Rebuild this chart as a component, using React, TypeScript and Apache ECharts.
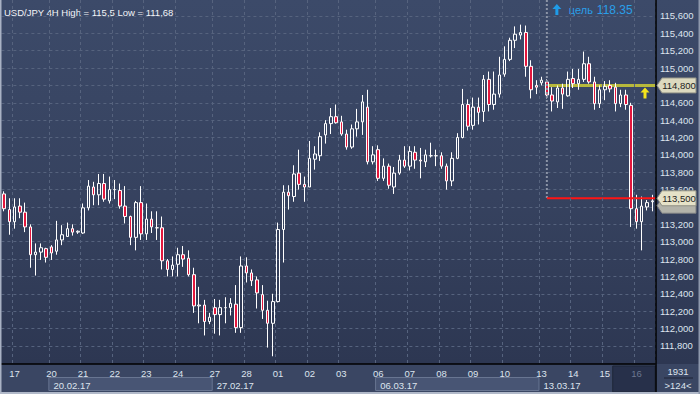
import React, { useEffect, useRef } from 'react';
import * as echarts from 'echarts';

// ---- data (USD/JPY 4H) ----
const openPrices = [113.55,113.37,113.23,113.41,113.34,113.17,112.85,112.88,112.92,112.94,
112.89,113.02,113.06,113.15,113.11,113.10,113.39,113.63,113.54,113.67,
113.47,113.60,113.59,113.41,113.29,113.05,113.45,113.09,113.26,113.16,
113.16,112.78,112.68,112.74,112.85,112.81,112.62,112.26,112.27,112.08,
112.24,112.16,112.24,112.24,112.28,112.01,112.72,112.64,112.56,112.39,
112.21,112.06,112.31,113.14,113.57,113.52,113.79,113.66,113.63,113.95,
113.99,114.23,114.36,114.44,114.38,114.24,114.09,114.30,114.38,114.55,
113.92,114.06,113.73,113.87,113.63,113.79,113.94,113.87,114.03,113.94,
113.92,113.99,113.99,113.99,113.87,113.70,113.96,114.20,114.58,114.34,
114.55,114.50,114.87,114.58,114.70,114.93,115.10,115.32,115.38,115.41,
115.02,114.80,114.83,114.84,114.69,114.61,114.77,114.68,114.88,114.82,
114.87,115.05,114.84,114.59,114.75,114.80,114.78,114.59,114.69,114.57,
113.38,113.23,113.40,113.46];

const closePrices = [113.38,113.23,113.40,113.34,113.17,112.85,112.88,112.93,112.82,112.87,
113.02,113.08,113.15,113.11,113.12,113.39,113.64,113.54,113.67,113.49,
113.60,113.60,113.41,113.29,113.05,113.45,113.09,113.26,113.17,113.16,
112.78,112.68,112.73,112.85,112.80,112.62,112.26,112.27,112.08,112.13,
112.16,112.24,112.24,112.29,112.01,112.72,112.64,112.55,112.41,112.21,
112.06,112.31,113.14,113.57,113.53,113.78,113.66,113.63,113.96,114.01,
114.21,114.36,114.44,114.37,114.24,114.09,114.30,114.38,114.61,113.92,
114.00,113.73,113.87,113.65,113.79,113.94,113.87,114.04,113.94,113.93,
114.00,113.99,113.99,113.87,113.70,113.96,114.20,114.58,114.33,114.55,
114.49,114.87,114.58,114.70,114.92,115.10,115.32,115.39,115.41,115.02,
114.75,114.78,114.86,114.69,114.62,114.77,114.70,114.87,114.82,114.87,
115.05,114.84,114.59,114.75,114.79,114.76,114.59,114.69,114.58,113.38,
113.23,113.41,113.45,113.47];

const lowPrices = [113.35,113.08,113.15,113.27,113.11,112.70,112.61,112.79,112.76,112.79,
112.85,112.96,113.06,113.07,113.09,113.09,113.36,113.42,113.42,113.46,
113.44,113.49,113.38,113.21,112.96,112.90,113.02,113.02,113.10,113.02,
112.68,112.60,112.60,112.60,112.71,112.60,112.18,112.06,111.92,112.05,
111.94,111.92,112.06,112.15,111.95,111.95,112.53,112.49,112.23,112.11,
111.78,111.68,112.30,112.76,113.37,113.46,113.60,113.46,113.63,113.83,
113.93,114.13,114.24,114.36,114.22,114.06,114.07,114.21,114.23,113.89,
113.89,113.70,113.70,113.61,113.55,113.77,113.85,113.82,113.84,113.73,
113.86,113.97,113.87,113.84,113.60,113.64,113.95,114.19,114.28,114.29,
114.35,114.38,114.50,114.52,114.66,114.90,115.08,115.23,115.33,114.90,
114.65,114.70,114.80,114.65,114.50,114.54,114.53,114.67,114.77,114.75,
114.84,114.82,114.52,114.54,114.63,114.72,114.50,114.55,114.52,113.17,
113.15,112.90,113.36,113.35];

const highPrices = [113.58,113.50,113.50,113.50,113.45,113.20,112.98,112.98,112.93,112.96,
113.24,113.19,113.22,113.20,113.13,113.44,113.71,113.69,113.78,113.78,
113.75,113.71,113.67,113.64,113.30,113.47,113.64,113.44,113.35,113.35,
113.29,112.80,112.83,112.93,112.95,112.90,112.70,112.48,112.33,112.18,
112.34,112.33,112.36,112.35,112.50,112.83,112.82,112.68,112.60,112.50,
112.32,112.40,113.22,113.65,113.65,113.88,114.06,113.75,114.16,114.10,
114.26,114.40,114.54,114.58,114.45,114.29,114.35,114.53,114.69,114.75,
114.10,114.11,113.96,113.90,113.86,114.00,114.10,114.10,114.10,114.08,
114.06,114.14,114.06,114.03,113.90,114.03,114.25,114.76,114.64,114.66,
114.66,114.92,114.96,114.96,115.13,115.25,115.35,115.48,115.50,115.49,
115.09,114.86,114.90,114.87,114.78,114.80,114.82,114.96,114.99,114.99,
115.19,115.13,114.90,114.80,114.85,114.86,114.83,114.75,114.75,114.60,
113.54,113.52,113.48,113.54];

// first bar of each trading day, and its label
const dayStarts = [2, 9, 15, 21, 27, 33, 40, 46, 52, 58, 64, 71, 77, 83, 89, 95, 102, 108, 114, 120];
const dayNames = ['17', '20', '21', '22', '23', '24', '27', '28', '01', '02', '03', '06', '07', '08', '09', '10', '13', '14', '15', '16'];
// first bar of each week, and its label
const weekStarts = [9, 40, 71, 102];
const weekNames = ['20.02.17', '27.02.17', '06.03.17', '13.03.17'];
const highlightedWeeks = [0, 2];

const yTicks = [111.8, 112.0, 112.2, 112.4, 112.6, 112.8, 113.0, 113.2, 113.4, 113.6, 113.8, 114.0, 114.2, 114.4, 114.6, 114.8, 115.0, 115.2, 115.4, 115.6];
// tick labels hidden under the price tags
const yCovered = [113.4, 114.8];

const titleText = 'USD/JPY 4H High = 115,5 Low = 111,68';
const targetWord = 'цель';
const targetValue = '118.35';
const levelBar = 103;
const levelYellow = 114.8;
const levelRed = 113.5;
const levelRedBehind = 113.46;
const todayBar = 120;
const todayBoxStart = 116;
const barCount = '1931';
const visibleCount = '>124<';

const FONT = '"Liberation Sans", Arial, sans-serif';
const Y_MAX = 115.784;
const Y_MIN = 111.591;

const fmtPrice = (v: number) => v.toFixed(3).replace('.', ',');

export default function App() {
  const ref = useRef<HTMLDivElement>(null);

  useEffect(() => {
    if (!ref.current) return;
    const chart = echarts.init(ref.current, null, { renderer: 'svg' });

    const barIds = openPrices.map((_, i) => 'b' + i);
    const dayAt: Record<number, string> = {};
    dayStarts.forEach((s, k) => (dayAt[s] = dayNames[k]));
    const weekAt: Record<number, string> = {};
    weekStarts.forEach((s, k) => (weekAt[s] = weekNames[k]));
    const candleData = openPrices.map((o, i) => [o, closePrices[i], lowPrices[i], highPrices[i]]);
    const idx = (v: string) => Number(String(v).slice(1));
    const labelTicks = yTicks.filter((t) => !yCovered.some((c) => Math.abs(c - t) < 1e-6));

    const option: any = {
      animation: false,
      backgroundColor: {
        type: 'linear', x: 0, y: 0, x2: 0, y2: 1,
        colorStops: [
          { offset: 0, color: '#3c4a69' },
          { offset: 0.5, color: '#36425f' },
          { offset: 0.92, color: '#2d3752' },
          { offset: 1, color: '#2c3651' },
        ],
      },
      title: {
        text: titleText, left: 0, top: 0, padding: [7, 4],
        textStyle: { color: '#f2f4f8', fontSize: 9.5, fontWeight: 'normal', fontFamily: FONT },
      },
      grid: { left: 1.4, top: 0, width: 653.5, height: 364, outerBoundsMode: 'none', containLabel: false },
      xAxis: [
        {
          type: 'category', data: barIds, boundaryGap: true, position: 'bottom', z: 10,
          axisLine: { show: true, lineStyle: { color: '#000000', width: 1.5 } },
          axisTick: { show: false },
          axisLabel: {
            interval: (i: number) => dayAt[i] !== undefined,
            formatter: (v: string) => {
              const i = idx(v);
              return i === todayBar ? '{g|' + dayAt[i] + '}' : dayAt[i] || '';
            },
            rich: { g: { color: '#6b7790', fontSize: 9.5, fontFamily: FONT } },
            color: '#dde4ee', fontSize: 9.5, fontFamily: FONT, margin: 4,
          },
          splitLine: {
            show: true,
            interval: (i: number) => dayAt[i] !== undefined,
            lineStyle: { color: '#56637e', type: [3, 3], width: 1 },
          },
        },
        {
          type: 'category', data: barIds, boundaryGap: true, position: 'bottom', offset: 12, z: 10,
          axisLine: { show: false }, axisTick: { show: false }, splitLine: { show: false },
          axisLabel: {
            interval: (i: number) => weekAt[i] !== undefined,
            formatter: (v: string) => weekAt[idx(v)] || '',
            align: 'left', padding: [0, 0, 0, 2],
            color: '#dde4ee', fontSize: 9.5, fontFamily: FONT, margin: 4,
          },
        },
      ],
      yAxis: {
        type: 'value', position: 'right', min: Y_MIN, max: Y_MAX,
        axisLine: { show: false },
        axisTick: { show: false, customValues: yTicks },
        axisLabel: {
          customValues: labelTicks, formatter: (v: number) => fmtPrice(v),
          color: '#dde4ee', fontSize: 9.5, fontFamily: FONT, margin: 5,
        },
        splitLine: { show: true, lineStyle: { color: '#56637e', type: [3, 3], width: 1 } },
      },
      series: [
        {
          type: 'candlestick', data: candleData, barWidth: 3, z: 3,
          itemStyle: {
            color: 'transparent', color0: '#e3173d',
            borderColor: '#ffffff', borderColor0: '#ffffff', borderWidth: 1,
          },
        },
      ],
    };
    chart.setOption(option);

    const px = (i: number, v: number) => chart.convertToPixel({ seriesIndex: 0 }, [i, v]) as number[];
    const band = px(1, 113)[0] - px(0, 113)[0];
    const leftEdge = (i: number) => px(i, 113)[0] - band / 2;
    const RIGHT = 656;

    const g: any[] = [];
    // bottom axis panel
    g.push({ type: 'rect', z: 1, shape: { x: 0, y: 364, width: 700, height: 30 }, style: { fill: '#3a4663' } });
    // week boxes
    highlightedWeeks.forEach((k) => {
      const x1 = leftEdge(weekStarts[k]);
      const x2 = leftEdge(weekStarts[k + 1]);
      g.push({ type: 'rect', z: 2, shape: { x: x1, y: 377.5, width: x2 - x1, height: 13 },
        style: { fill: '#485574', stroke: '#687591', lineWidth: 1 } });
    });
    // today box
    const tx = leftEdge(todayBoxStart);
    g.push({ type: 'rect', z: 2, shape: { x: tx, y: 366, width: RIGHT - 1 - tx, height: 26 },
      style: { fill: '#27304a', stroke: '#1f2639', lineWidth: 1 } });

    const [ax, yRed] = px(levelBar, levelRed);
    const yYel = px(levelBar, levelYellow)[1];
    const yRedB = px(levelBar, levelRedBehind)[1];

    // annotation lines
    g.push({ type: 'line', z: 1, shape: { x1: ax, y1: yYel, x2: RIGHT, y2: yYel }, style: { stroke: '#b7b83c', lineWidth: 3 } });
    g.push({ type: 'line', z: 4, shape: { x1: ax, y1: 0, x2: ax, y2: yRed }, style: { stroke: '#8c94a6', lineWidth: 2, lineDash: [2, 2] } });
    g.push({ type: 'line', z: 4, shape: { x1: ax, y1: yRed, x2: RIGHT, y2: yRed }, style: { stroke: '#ff1414', lineWidth: 2 } });

    const arrow = (cx: number, ty: number, fill: string) => ({
      type: 'polygon', z: 6,
      shape: { points: [[cx, ty], [cx + 4.5, ty + 5], [cx + 1.5, ty + 5], [cx + 1.5, ty + 11], [cx - 1.5, ty + 11], [cx - 1.5, ty + 5], [cx - 4.5, ty + 5]] },
      style: { fill },
    });
    g.push(arrow(645, yYel + 2, '#f4e41c'));
    g.push(arrow(ax + 10, 4, '#1f9be8'));
    g.push({ type: 'text', z: 6, x: ax + 22, y: 10, style: { text: targetWord, fill: '#2a9fe8', font: '11px ' + FONT, textVerticalAlign: 'middle', verticalAlign: 'middle' } });
    g.push({ type: 'text', z: 6, x: ax + 50, y: 10, style: { text: targetValue, fill: '#2a9fe8', font: '12px ' + FONT, textVerticalAlign: 'middle', verticalAlign: 'middle' } });

    // price tags
    const tagShape = (y: number, fill: string, stroke: string, z: number) => {
      g.push({ type: 'polygon', z, shape: { points: [[657, y], [662, y - 7.5], [696, y - 7.5], [696, y + 7.5], [662, y + 7.5]] },
        style: { fill, stroke, lineWidth: 1 } });
    };
    const tagText = (y: number, text: string, color: string, z: number) => {
      g.push({ type: 'text', z, x: 679, y: y + 0.5, style: { text, fill: color, font: '9.5px ' + FONT, textAlign: 'center', align: 'center', textVerticalAlign: 'middle', verticalAlign: 'middle' } });
    };
    tagShape(yRedB + 4, '#b3b3aa', '#7b7d80', 12);
    tagShape(yRed, '#e6e2c8', '#8f8f84', 14);
    tagText(yRed, fmtPrice(levelRed), '#1d1d1d', 15);
    tagShape(yYel, '#dcd9bf', '#8f8f84', 14);
    tagText(yYel, fmtPrice(levelYellow), '#1d1d1d', 15);

    // separators and frame
    g.push({ type: 'line', z: 11, shape: { x1: RIGHT, y1: 0, x2: RIGHT, y2: 394 }, style: { stroke: '#000000', lineWidth: 1.5 } });
    g.push({ type: 'rect', z: 11, shape: { x: 0, y: 0, width: 1.5, height: 394 }, style: { fill: '#a9b2c4' } });
    g.push({ type: 'rect', z: 11, shape: { x: 0, y: 392, width: 700, height: 2 }, style: { fill: '#b1b9c9' } });
    g.push({ type: 'rect', z: 11, shape: { x: 698.5, y: 0, width: 1.5, height: 394 }, style: { fill: '#8e98ac' } });

    // bottom-right counters
    g.push({ type: 'text', z: 12, x: 678, y: 371, style: { text: barCount, fill: '#dde4ee', font: '9.5px ' + FONT, textAlign: 'center', align: 'center', textVerticalAlign: 'middle', verticalAlign: 'middle' } });
    g.push({ type: 'line', z: 12, shape: { x1: 664, y1: 378, x2: 693, y2: 378 }, style: { stroke: '#1c2236', lineWidth: 1 } });
    g.push({ type: 'text', z: 12, x: 678, y: 385, style: { text: visibleCount, fill: '#dde4ee', font: '9.5px ' + FONT, textAlign: 'center', align: 'center', textVerticalAlign: 'middle', verticalAlign: 'middle' } });

    chart.setOption({ graphic: { elements: g } });

    return () => chart.dispose();
  }, []);

  return <div ref={ref} style={{ position: 'fixed', left: 0, top: 0, width: 700, height: 394 }} />;
}
